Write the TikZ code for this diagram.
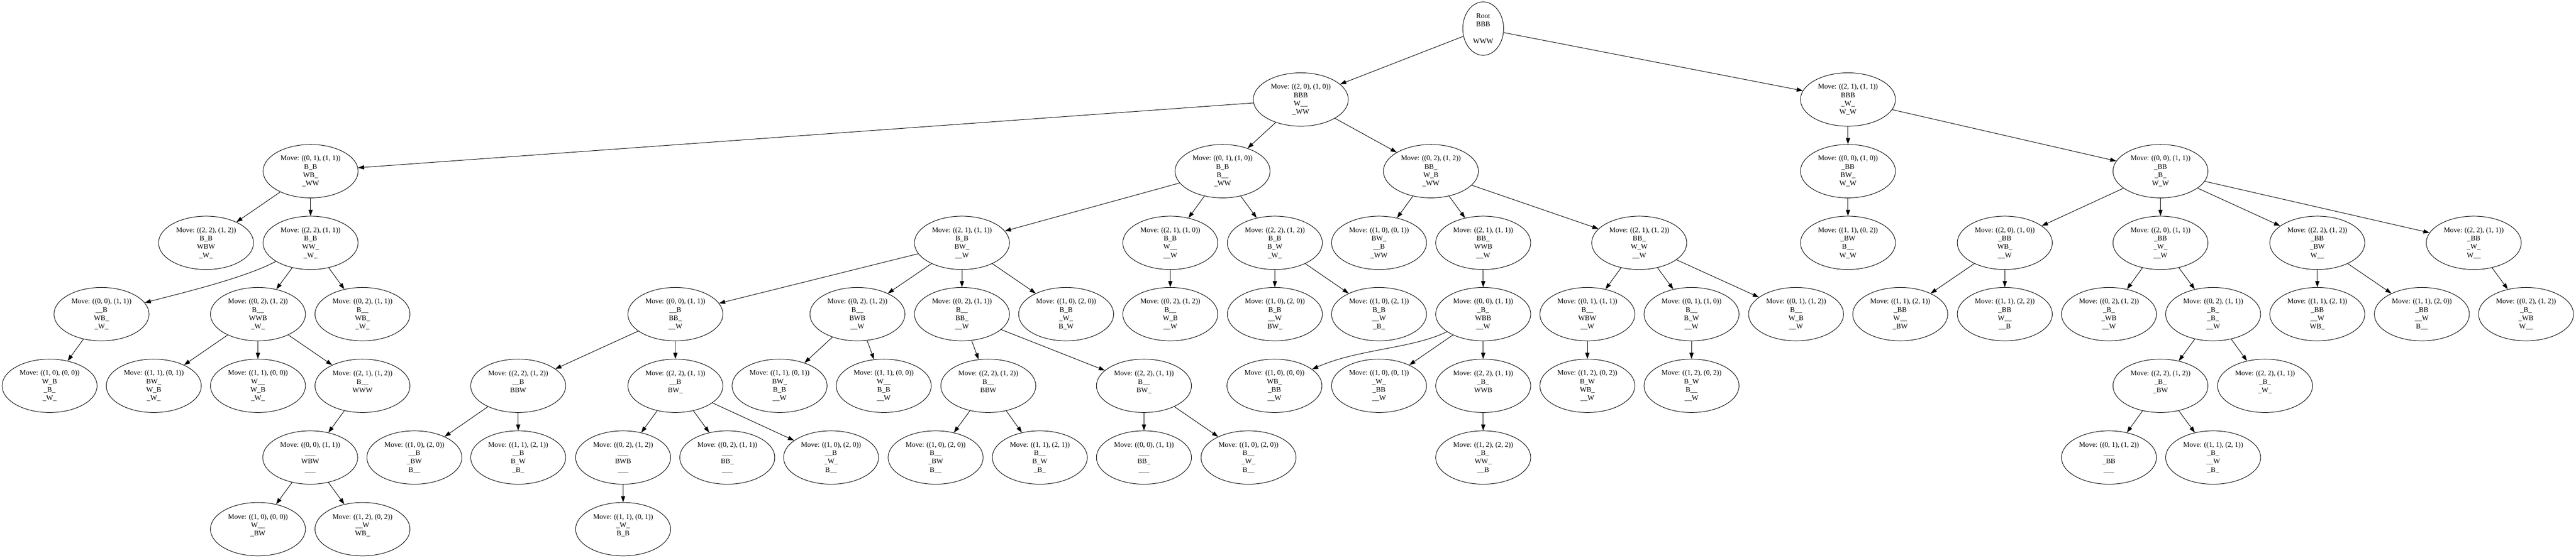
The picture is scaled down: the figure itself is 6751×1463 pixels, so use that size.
\documentclass[tikz,border=0pt]{standalone}
\usepackage{fontspec}
\setmainfont{Liberation Serif}
\usetikzlibrary{shapes.geometric,arrows.meta}
\newcommand\nodefont{\fontsize{18.6}{22}\selectfont}
\newcommand\mvn[7]{\node[st] (#1) at (#2,#3) {Move: #4\\#5\\#6\\#7};}
\newcommand\bl{\mbox{}}
\tikzset{
  st/.style={draw, ellipse, line width=1.3pt, minimum width=249pt, minimum height=140pt,
             inner sep=0pt, align=center, font=\nodefont},
  rt/.style={st, minimum width=107pt},
  ar/.style={-{Triangle[length=16pt,width=11pt]}, line width=1.3pt},
}
\begin{document}
\begin{tikzpicture}[x=1pt,y=-1pt]
\useasboundingbox[fill=white] (0,0) rectangle (6751,1463);
% level 0
\node[rt] (r) at (3887,75) {Root\\BBB\\\mbox{}\\WWW};
% level 1
\mvn{A}{3409}{261}{((2, 0), (1, 0))}{BBB}{W\_\_}{\_WW}
\mvn{B}{4843}{261}{((2, 1), (1, 1))}{BBB}{\_W\_}{W\_W}
% level 2
\mvn{a1}{814}{449}{((0, 1), (1, 1))}{B\_B}{WB\_}{\_WW}
\mvn{a2}{3204}{449}{((0, 1), (1, 0))}{B\_B}{B\_\_}{\_WW}
\mvn{a3}{3750}{449}{((0, 2), (1, 2))}{BB\_}{W\_B}{\_WW}
\mvn{b1}{4843}{449}{((0, 0), (1, 0))}{\_BB}{BW\_}{W\_W}
\mvn{b2}{5662}{449}{((0, 0), (1, 1))}{\_BB}{\_B\_}{W\_W}
% level 3
\mvn{c1}{540}{637}{((2, 2), (1, 2))}{B\_B}{WBW}{\_W\_}
\mvn{c2}{814}{637}{((2, 2), (1, 1))}{B\_B}{WW\_}{\_W\_}
\mvn{c3}{2521}{637}{((2, 1), (1, 1))}{B\_B}{BW\_}{\_\_W}
\mvn{c4}{3067}{637}{((2, 1), (1, 0))}{B\_B}{W\_\_}{\_\_W}
\mvn{c5}{3341}{637}{((2, 2), (1, 2))}{B\_B}{B\_W}{\_W\_}
\mvn{c6}{3614}{637}{((1, 0), (0, 1))}{BW\_}{\_\_B}{\_WW}
\mvn{c7}{3887}{637}{((2, 1), (1, 1))}{BB\_}{WWB}{\_\_W}
\mvn{c8}{4296}{637}{((2, 1), (1, 2))}{BB\_}{W\_W}{\_\_W}
\mvn{c9}{4843}{637}{((1, 1), (0, 2))}{\_BW}{B\_\_}{W\_W}
\mvn{c10}{5254}{637}{((2, 0), (1, 0))}{\_BB}{WB\_}{\_\_W}
\mvn{c11}{5662}{637}{((2, 0), (1, 1))}{\_BB}{\_W\_}{\_\_W}
\mvn{c12}{6073}{637}{((2, 2), (1, 2))}{\_BB}{\_BW}{W\_\_}
\mvn{c13}{6483}{637}{((2, 2), (1, 1))}{\_BB}{\_W\_}{W\_\_}
% level 4
\mvn{d1}{266}{824}{((0, 0), (1, 1))}{\_\_B}{WB\_}{\_W\_}
\mvn{d2}{676}{824}{((0, 2), (1, 2))}{B\_\_}{WWB}{\_W\_}
\mvn{d3}{950}{824}{((0, 2), (1, 1))}{B\_\_}{WB\_}{\_W\_}
\mvn{d4}{1770}{824}{((0, 0), (1, 1))}{\_\_B}{BB\_}{\_\_W}
\mvn{d5}{2247}{824}{((0, 2), (1, 2))}{B\_\_}{BWB}{\_\_W}
\mvn{d6}{2521}{824}{((0, 2), (1, 1))}{B\_\_}{BB\_}{\_\_W}
\mvn{d7}{2794}{824}{((1, 0), (2, 0))}{B\_B}{\_W\_}{B\_W}
\mvn{d8}{3067}{824}{((0, 2), (1, 2))}{B\_\_}{W\_B}{\_\_W}
\mvn{d9}{3341}{824}{((1, 0), (2, 0))}{B\_B}{\_\_W}{BW\_}
\mvn{d10}{3614}{824}{((1, 0), (2, 1))}{B\_B}{\_\_W}{\_B\_}
\mvn{d11}{3887}{824}{((0, 0), (1, 1))}{\_B\_}{WBB}{\_\_W}
\mvn{d12}{4160}{824}{((0, 1), (1, 1))}{B\_\_}{WBW}{\_\_W}
\mvn{d13}{4433}{824}{((0, 1), (1, 0))}{B\_\_}{B\_W}{\_\_W}
\mvn{d14}{4707}{824}{((0, 1), (1, 2))}{B\_\_}{W\_B}{\_\_W}
\mvn{d15}{4980}{824}{((1, 1), (2, 1))}{\_BB}{W\_\_}{\_BW}
\mvn{d16}{5254}{824}{((1, 1), (2, 2))}{\_BB}{W\_\_}{\_\_B}
\mvn{d17}{5527}{824}{((0, 2), (1, 2))}{\_B\_}{\_WB}{\_\_W}
\mvn{d18}{5800}{824}{((0, 2), (1, 1))}{\_B\_}{\_B\_}{\_\_W}
\mvn{d19}{6073}{824}{((1, 1), (2, 1))}{\_BB}{\_\_W}{WB\_}
\mvn{d20}{6347}{824}{((1, 1), (2, 0))}{\_BB}{\_\_W}{B\_\_}
\mvn{d21}{6620}{824}{((0, 2), (1, 2))}{\_B\_}{\_WB}{W\_\_}
% level 5
\mvn{e1}{130}{1012}{((1, 0), (0, 0))}{W\_B}{\_B\_}{\_W\_}
\mvn{e2}{403}{1012}{((1, 1), (0, 1))}{BW\_}{W\_B}{\_W\_}
\mvn{e3}{676}{1012}{((1, 1), (0, 0))}{W\_\_}{W\_B}{\_W\_}
\mvn{e4}{950}{1012}{((2, 1), (1, 2))}{B\_\_}{WWW}{\bl}
\mvn{e5}{1358}{1012}{((2, 2), (1, 2))}{\_\_B}{BBW}{\bl}
\mvn{e6}{1770}{1012}{((2, 2), (1, 1))}{\_\_B}{BW\_}{\bl}
\mvn{e7}{2043}{1012}{((1, 1), (0, 1))}{BW\_}{B\_B}{\_\_W}
\mvn{e8}{2316}{1012}{((1, 1), (0, 0))}{W\_\_}{B\_B}{\_\_W}
\mvn{e9}{2590}{1012}{((2, 2), (1, 2))}{B\_\_}{BBW}{\bl}
\mvn{e10}{2998}{1012}{((2, 2), (1, 1))}{B\_\_}{BW\_}{\bl}
\mvn{e11}{3340}{1012}{((1, 0), (0, 0))}{WB\_}{\_BB}{\_\_W}
\mvn{e12}{3614}{1012}{((1, 0), (0, 1))}{\_W\_}{\_BB}{\_\_W}
\mvn{e13}{3887}{1012}{((2, 2), (1, 1))}{\_B\_}{WWB}{\bl}
\mvn{e14}{4160}{1012}{((1, 2), (0, 2))}{B\_W}{WB\_}{\_\_W}
\mvn{e15}{4433}{1012}{((1, 2), (0, 2))}{B\_W}{B\_\_}{\_\_W}
\mvn{e16}{5662}{1012}{((2, 2), (1, 2))}{\_B\_}{\_BW}{\bl}
\mvn{e17}{5936}{1012}{((2, 2), (1, 1))}{\_B\_}{\_W\_}{\bl}
% level 6
\mvn{f1}{813}{1200}{((0, 0), (1, 1))}{\_\_\_}{WBW}{\_\_\_}
\mvn{f2}{1086}{1200}{((1, 0), (2, 0))}{\_\_B}{\_BW}{B\_\_}
\mvn{f3}{1358}{1200}{((1, 1), (2, 1))}{\_\_B}{B\_W}{\_B\_}
\mvn{f4}{1633}{1200}{((0, 2), (1, 2))}{\_\_\_}{BWB}{\_\_\_}
\mvn{f5}{1906}{1200}{((0, 2), (1, 1))}{\_\_\_}{BB\_}{\_\_\_}
\mvn{f6}{2178}{1200}{((1, 0), (2, 0))}{\_\_B}{\_W\_}{B\_\_}
\mvn{f7}{2452}{1200}{((1, 0), (2, 0))}{B\_\_}{\_BW}{B\_\_}
\mvn{f8}{2725}{1200}{((1, 1), (2, 1))}{B\_\_}{B\_W}{\_B\_}
\mvn{f9}{2998}{1200}{((0, 0), (1, 1))}{\_\_\_}{BB\_}{\_\_\_}
\mvn{f10}{3272}{1200}{((1, 0), (2, 0))}{B\_\_}{\_W\_}{B\_\_}
\mvn{f11}{3887}{1200}{((1, 2), (2, 2))}{\_B\_}{WW\_}{\_\_B}
\mvn{f12}{5527}{1200}{((0, 1), (1, 2))}{\_\_\_}{\_BB}{\_\_\_}
\mvn{f13}{5800}{1200}{((1, 1), (2, 1))}{\_B\_}{\_\_W}{\_B\_}
% level 7
\mvn{g1}{676}{1388}{((1, 0), (0, 0))}{W\_\_}{\_BW}{\bl}
\mvn{g2}{950}{1388}{((1, 2), (0, 2))}{\_\_W}{WB\_}{\bl}
\mvn{g3}{1633}{1388}{((1, 1), (0, 1))}{\_W\_}{B\_B}{\bl}
% edges
\foreach \p/\c in {r/A, r/B, A/a1, A/a2, A/a3, B/b1, B/b2,
  a1/c1, a1/c2, a2/c3, a2/c4, a2/c5, a3/c6, a3/c7, a3/c8, b1/c9,
  b2/c10, b2/c11, b2/c12, b2/c13,
  c2/d2, c2/d3, c3/d4, c3/d5, c3/d6, c3/d7, c4/d8, c5/d9, c5/d10, c7/d11,
  c8/d12, c8/d13, c8/d14, c10/d15, c10/d16, c11/d17, c11/d18, c12/d19, c12/d20, c13/d21,
  d1/e1, d2/e2, d2/e3, d2/e4, d4/e5, d4/e6, d5/e7, d5/e8, d6/e9, d6/e10,
  d11/e12, d11/e13, d12/e14, d13/e15, d18/e16, d18/e17,
  e4/f1, e5/f2, e5/f3, e6/f4, e6/f5, e6/f6, e9/f7, e9/f8, e10/f9, e10/f10, e13/f11,
  e16/f12, e16/f13, f1/g1, f1/g2, f4/g3}
  \draw[ar] (\p) -- (\c);
\draw[ar] (c2) .. controls (640,730) and (470,770) .. (d1);
\draw[ar] (d11) .. controls (3700,915) and (3560,915) .. (e11);
\end{tikzpicture}
\end{document}
